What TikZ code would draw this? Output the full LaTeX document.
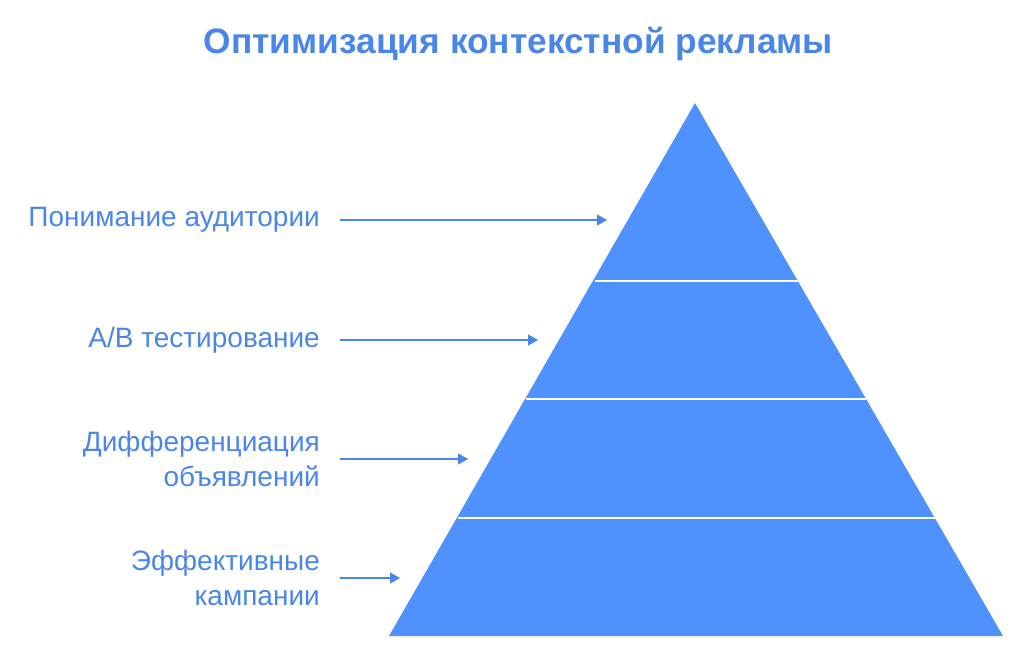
\documentclass[tikz,border=0pt]{standalone}
\usepackage{fontspec}
\setmainfont{Liberation Sans}
\usetikzlibrary{arrows.meta}
\definecolor{pyr}{HTML}{4F91FF}
\definecolor{txt}{HTML}{4A86E8}
\tikzset{
  lbl/.style={anchor=east, align=right, text=txt, font=\fontsize{28}{35}\selectfont, inner sep=0pt},
  arr/.style={draw=txt, line width=1.6pt, -{Triangle[length=10pt,width=11pt]}},
  sep/.style={draw=white, line width=1.6pt}
}
\begin{document}
\begin{tikzpicture}[x=1pt,y=-1pt]
\useasboundingbox (0,0) rectangle (1024,656);
\node[font=\bfseries\fontsize{35.3}{40}\selectfont, text=txt, inner sep=0pt] (title) at (518.5,44) {Оптимизация контекстной рекламы};
\fill[pyr] (695,103) -- (1003,636) -- (389,636) -- cycle;
\coordinate (l1) at (594.5,281); \coordinate (r1) at (797.5,281);
\coordinate (l2) at (526.3,399); \coordinate (r2) at (865.7,399);
\coordinate (l3) at (457.5,518); \coordinate (r3) at (934.5,518);
\draw[sep] (l1) -- (r1);
\draw[sep] (l2) -- (r2);
\draw[sep] (l3) -- (r3);
\node[lbl] (t1) at (320,220) {Понимание аудитории};
\node[lbl] (t2) at (320,340) {A/B тестирование};
\node[lbl] (t3) at (320,459) {Дифференциация\\объявлений};
\node[lbl] (t4) at (320,578) {Эффективные\\кампании};
\coordinate (a1) at (607,220); \coordinate (a2) at (538,340);
\coordinate (a3) at (468,459); \coordinate (a4) at (400,578);
\draw[arr] ([xshift=20pt]t1.east) -- (a1);
\draw[arr] ([xshift=20pt]t2.east) -- (a2);
\draw[arr] ([xshift=20pt]t3.east) -- (a3);
\draw[arr] ([xshift=20pt]t4.east) -- (a4);
\end{tikzpicture}
\end{document}
